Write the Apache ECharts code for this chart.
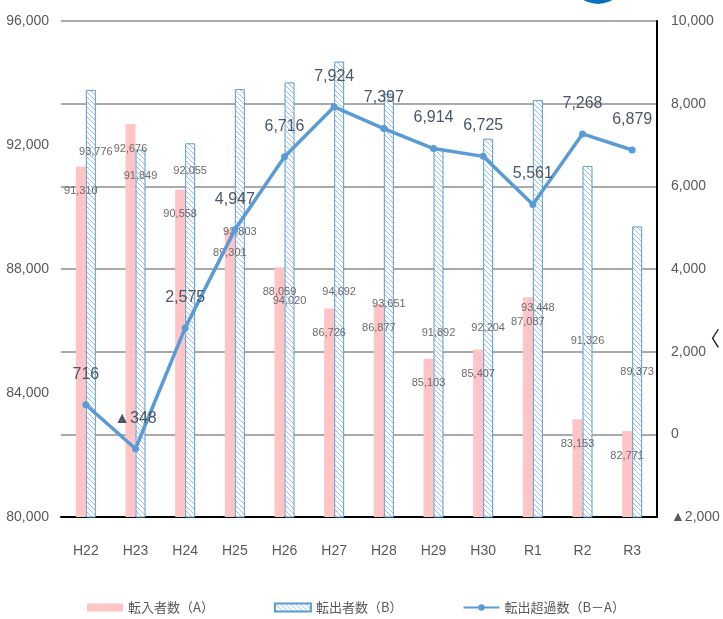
<!DOCTYPE html>
<html>
<head>
<meta charset="utf-8">
<script src="https://cdn.jsdelivr.net/npm/echarts@6/dist/echarts.min.js"></script>
<style>
  html, body { margin: 0; padding: 0; background: #fff; }
  #chart { width: 723px; height: 619px; }
</style>
</head>
<body>
<div id="chart"></div>
<script>
// Fiscal years
const years = ['H22', 'H23', 'H24', 'H25', 'H26', 'H27', 'H28', 'H29', 'H30', 'R1', 'R2', 'R3'];
// 転入者数 (A)
const moveIn = [91310, 92676, 90558, 89301, 88059, 86726, 86877, 85103, 85407, 87087, 83153, 82771];
// 転出者数 (B)
const moveOut = [93776, 91849, 92055, 93803, 94020, 94692, 93651, 91892, 92204, 93448, 91326, 89373];
// 転出超過数 (B - A)
const excess = [716, -348, 2575, 4947, 6716, 7924, 7397, 6914, 6725, 5561, 7268, 6879];

// vertical drop (px) of each 転出者数 label centre below its bar top
const outLabelDrop = [64, 28, 29, 144, 220, 232, 212, 186, 191, 209, 177, 147];

const numFont = '"Liberation Sans Narrow", "Liberation Sans", sans-serif';
const jpFont = '"Noto Sans CJK JP", sans-serif';

function fmt(v) {
  const s = Math.abs(v).toLocaleString('en-US');
  return v < 0 ? '\u25B2' + s : s;
}

// diagonal hatch tile for the 転出者数 bars
function hatchTile() {
  const c = document.createElement('canvas');
  c.width = 5; c.height = 5;
  const g = c.getContext('2d');
  g.fillStyle = '#ffffff';
  g.fillRect(0, 0, 5, 5);
  g.strokeStyle = '#98bfe6';
  g.lineWidth = 1;
  g.beginPath();
  g.moveTo(-1, -1); g.lineTo(6, 6);
  g.moveTo(-1, 4); g.lineTo(1, 6);
  g.moveTo(4, -1); g.lineTo(6, 1);
  g.stroke();
  return c;
}

const chart = echarts.init(document.getElementById('chart'), null, { renderer: 'canvas' });

chart.setOption({
  animation: false,
  backgroundColor: '#ffffff',
  grid: { left: 61, right: 66, top: 21, bottom: 102 },
  legend: {
    top: 596,
    left: 82,
    itemWidth: 36,
    itemHeight: 8,
    itemGap: 60,
    textStyle: { color: '#595959', fontSize: 13, fontFamily: jpFont },
    data: [
      { name: '転入者数（A）', icon: 'rect' },
      { name: '転出者数（B）', icon: 'rect' },
      { name: '転出超過数（B－A）' }
    ]
  },
  xAxis: {
    type: 'category',
    data: years,
    axisLine: { onZero: false, lineStyle: { color: '#000000', width: 2 } },
    axisTick: { show: false },
    axisLabel: { color: '#595959', fontSize: 14, fontFamily: numFont, margin: 27 }
  },
  yAxis: [
    {
      type: 'value',
      min: 80000, max: 96000, interval: 4000,
      axisLine: { show: false },
      axisTick: { show: false },
      splitLine: { show: false },
      axisLabel: {
        color: '#595959', fontSize: 14, fontFamily: numFont, margin: 12,
        formatter: v => fmt(v)
      }
    },
    {
      type: 'value',
      min: -2000, max: 10000, interval: 2000,
      axisLine: { show: true, lineStyle: { color: '#000000', width: 2 } },
      axisTick: { show: false },
      splitLine: { show: true, lineStyle: { color: '#aaaaaa', width: 2 } },
      axisLabel: {
        color: '#595959', fontSize: 14, fontFamily: numFont, margin: 14,
        formatter: v => fmt(v)
      }
    }
  ],
  series: [
    {
      name: '転入者数（A）',
      type: 'bar',
      yAxisIndex: 0,
      data: moveIn,
      barWidth: 10,
      barGap: '0%',
      itemStyle: { color: '#ffc4c6' },
      label: {
        show: true,
        position: 'insideTop',
        offset: [0, 14],
        color: '#6b6b6b',
        fontSize: 11,
        fontFamily: numFont,
        formatter: p => fmt(p.value)
      },
      z: 2
    },
    {
      name: '転出者数（B）',
      type: 'bar',
      yAxisIndex: 0,
      data: moveOut.map((v, i) => ({
        value: v,
        label: { offset: [i === 0 ? 5 : 0, outLabelDrop[i] - 12] }
      })),
      barWidth: 10,
      itemStyle: {
        color: { image: hatchTile(), repeat: 'repeat' },
        borderColor: '#5b9bd5',
        borderWidth: 1
      },
      label: {
        show: true,
        position: 'insideTop',
        color: '#6b6b6b',
        fontSize: 11,
        fontFamily: numFont,
        formatter: p => fmt(p.value)
      },
      z: 2
    },
    {
      name: '転出超過数（B－A）',
      type: 'line',
      yAxisIndex: 1,
      data: excess,
      symbol: 'circle',
      symbolSize: 7,
      lineStyle: { color: '#5b9bd5', width: 3.5 },
      itemStyle: { color: '#5b9bd5' },
      label: {
        show: true,
        position: 'top',
        distance: 19,
        color: '#4b5667',
        fontSize: 16,
        fontFamily: numFont,
        formatter: p => fmt(p.value)
      },
      z: 5
    }
  ],
  graphic: [
    {
      type: 'circle',
      shape: { cx: 598, cy: -24, r: 28 },
      style: { fill: '#0a6fc2' },
      silent: true
    },
    {
      type: 'text',
      left: 700, top: 328,
      style: { text: '〈', fill: '#222222', fontSize: 20, fontFamily: jpFont },
      silent: true
    }
  ]
});
</script>
</body>
</html>
